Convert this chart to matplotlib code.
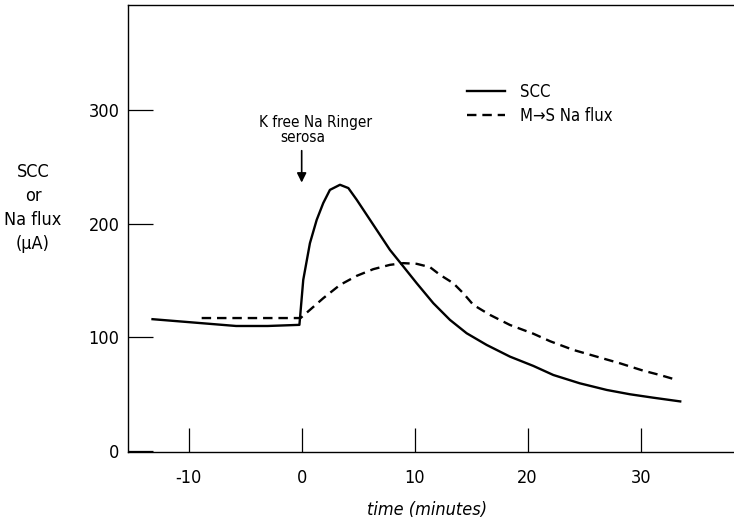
import matplotlib
matplotlib.use("Agg")
import matplotlib.pyplot as plt
from matplotlib.lines import Line2D

plt.rcParams['font.family'] = ['Liberation Sans Narrow', 'DejaVu Sans']
plt.rcParams['font.stretch'] = 'condensed'

# SCC (solid)
scc_t = [-13.2, -9.5, -5.8, -3.0, -0.2, 0.14, 0.73, 1.33, 1.91, 2.5, 3.39, 4.13, 4.87,
         6.34, 7.81, 9.0, 10.18, 11.65, 13.12, 14.6, 16.37, 18.43, 20.5, 22.27,
         24.6, 27.0, 29.05, 31.1, 33.5]
scc_v = [116, 113, 110, 110, 111, 150.7, 183, 203.6, 218.4, 230, 234.5, 231.6, 221.3,
         199.2, 177.1, 162.4, 147.7, 130.1, 115.4, 103.6, 93.3, 83, 74.8, 66.8,
         59.5, 53.6, 49.8, 46.8, 43.5]

# M->S Na flux (dashed)
flux_t = [-8.85, -4.0, -0.1, 0.73, 1.91, 3.39, 4.87, 6.34, 7.81, 9.0, 10.18, 11.35,
          12.24, 13.42, 14.3, 15.19, 16.66, 18.43, 20.5, 22.0, 24.04, 26.1, 28.17,
          30.23, 31.7, 32.9]
flux_v = [117, 117, 117, 124.2, 134.5, 146.2, 154.2, 160.1, 163.9, 165.4, 164.8, 161.9,
          155.1, 147.7, 138.9, 128.6, 119.8, 110.9, 103.2, 96.5, 88.9, 83, 77.1,
          70.6, 66.8, 63.3]

xticks = [-10, 0, 10, 20, 30]
xticklabels = ['-10', '0', '10', '20', '30']
yticks = [0, 100, 200, 300]
yticklabels = ['0', '100', '200', '300']

fig = plt.figure(figsize=(7.34, 5.24), dpi=100)
ax = fig.add_axes([128/734, 1 - 452/524, 1 - 128/734, (452 - 5)/524])

ax.plot(scc_t, scc_v, color='black', lw=1.7, solid_joinstyle='round', label='SCC')
ax.plot(flux_t, flux_v, color='black', lw=1.7, dashes=(4, 2.5), label='M\u2192S Na flux')

ax.set_xlim(-15.37, 38.26)
ax.set_ylim(-1.1, 393)
ax.spines['right'].set_visible(False)
for s in ['left', 'top', 'bottom']:
    ax.spines[s].set_linewidth(1.0)

ax.set_xticks(xticks)
ax.set_xticklabels(xticklabels)
ax.set_yticks(yticks)
ax.set_yticklabels(yticklabels)
ax.tick_params(axis='x', direction='in', length=17, width=0.9, pad=12, labelsize=13)
ax.tick_params(axis='y', direction='in', length=18, width=0.9, pad=6, labelsize=13)

fig.text(33/734, 1 - 208/524, 'SCC\nor\nNa flux\n(\u03bcA)', ha='center', va='center',
         fontsize=13, linespacing=1.45)
fig.text(427/734, 1 - 510/524, 'time (minutes)', ha='center', va='center',
         fontsize=13, style='italic')

ax.text(1.2, 289, 'K free Na Ringer', ha='center', va='center', fontsize=11)
ax.text(0.1, 276, 'serosa', ha='center', va='center', fontsize=11)
ax.annotate('', xy=(0, 234), xytext=(0, 267),
            arrowprops=dict(arrowstyle='-|>', color='black', lw=1.2, mutation_scale=14))

handles = [Line2D([], [], color='black', lw=1.7),
           Line2D([], [], color='black', lw=1.7, dashes=(4, 2.5))]
fig.legend(handles, ['SCC', 'M\u2192S Na flux'], loc='upper left',
           bbox_to_anchor=(467/734, 1 - 83/524), frameon=False, fontsize=12,
           handlelength=2.3, handletextpad=0.9, labelspacing=0.35,
           borderpad=0, borderaxespad=0)

fig.savefig('out.png', dpi=100)
